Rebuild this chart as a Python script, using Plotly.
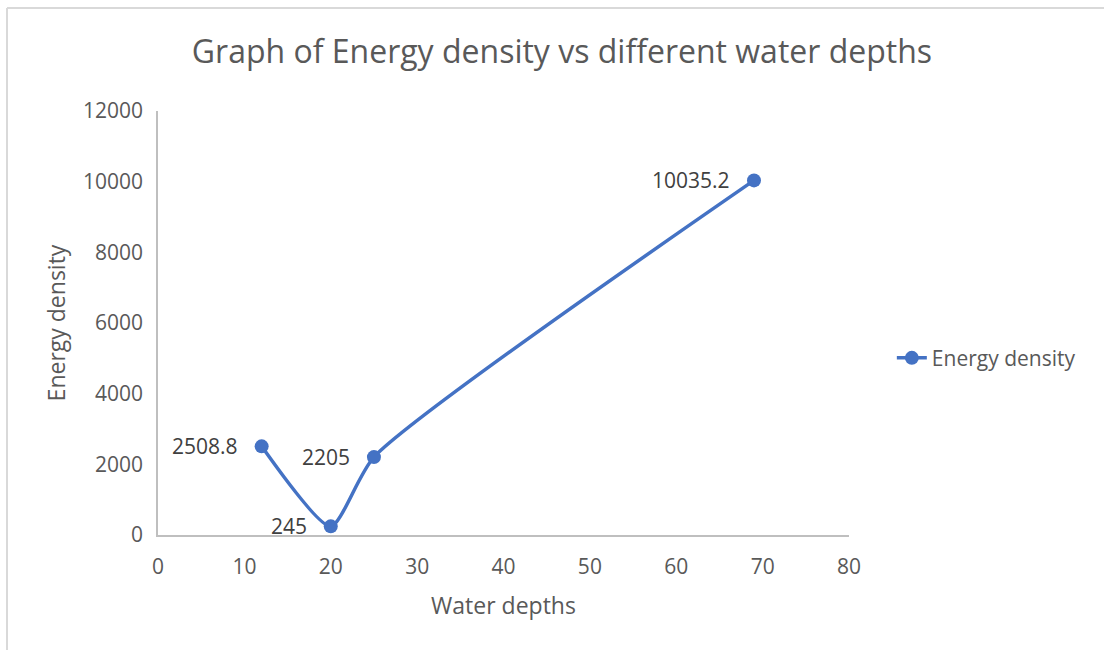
import plotly.graph_objects as go

depths = [12, 20, 25, 69]
energy = [2508.8, 245, 2205, 10035.2]
labels = ["2508.8", "245", "2205", "10035.2"]
series_name = "Energy density"

FONT = "Open Sans"
blue = "#4472C4"

fig = go.Figure()
fig.add_trace(go.Scatter(
    x=depths, y=energy, name=series_name,
    mode="lines+markers",
    line=dict(color=blue, width=3.5, shape="spline", smoothing=0.6),
    marker=dict(color=blue, size=14),
    cliponaxis=False,
))

for xv, yv, lab in zip(depths, energy, labels):
    fig.add_annotation(x=xv, y=yv, text=lab, showarrow=False,
                       xanchor="right", yanchor="middle", xshift=-22,
                       font=dict(family=FONT, size=21, color="#404040"))

fig.update_layout(
    width=1104, height=650,
    margin=dict(l=158, r=255, t=111, b=115),
    paper_bgcolor="white", plot_bgcolor="white",
    title=dict(text="Graph of Energy density vs different water depths",
               x=0.509, xanchor="center", y=1 - 52 / 650, yanchor="middle",
               font=dict(family=FONT, size=32, color="#595959")),
    showlegend=True,
    legend=dict(x=1.062, y=0.417, xanchor="left", yanchor="middle",
                font=dict(family=FONT, size=21, color="#595959"),
                bgcolor="rgba(0,0,0,0)"),
    xaxis=dict(range=[0, 80], dtick=10, tick0=0, showgrid=False, zeroline=False,
               showline=True, linecolor="#BFBFBF", linewidth=1.5, ticks="",
               ticklabelstandoff=12, tickformat="d",
               tickfont=dict(family=FONT, size=21, color="#595959"),
               title=dict(text="Water depths", standoff=19,
                          font=dict(family=FONT, size=23, color="#595959"))),
    yaxis=dict(range=[0, 12000], dtick=2000, tick0=0, showgrid=False, zeroline=False,
               showline=True, linecolor="#BFBFBF", linewidth=1.5, ticks="",
               ticklabelstandoff=9, tickformat="d",
               tickfont=dict(family=FONT, size=21, color="#595959"),
               title=dict(text="Energy density", standoff=11,
                          font=dict(family=FONT, size=23, color="#595959"))),
)

# outer chart border (left and top edges visible)
px_w = 1104 - 158 - 255
px_h = 650 - 111 - 115
left_x = (7 - 158) / px_w
top_y = (535 - 8) / px_h
fig.add_shape(type="line", xref="paper", yref="paper",
              x0=left_x, x1=left_x, y0=top_y, y1=-1, line=dict(color="#D9D9D9", width=2))
fig.add_shape(type="line", xref="paper", yref="paper",
              x0=left_x, x1=2, y0=top_y, y1=top_y, line=dict(color="#D9D9D9", width=2))

fig.write_html("out.html", config={"displayModeBar": False},
               post_script="document.body.style.margin='0px';")
